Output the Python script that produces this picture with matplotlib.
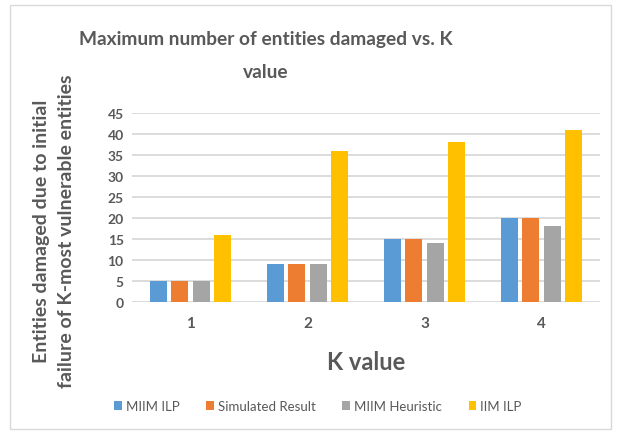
import matplotlib
matplotlib.use("Agg")
import matplotlib.pyplot as plt
import numpy as np
from matplotlib.patches import Rectangle

categories = ["1", "2", "3", "4"]
series_names = ["MIIM ILP", "Simulated Result", "MIIM Heuristic", "IIM ILP"]
miim_ilp = [5, 9, 15, 20]
simulated = [5, 9, 15, 20]
miim_heur = [5, 9, 14, 18]
iim_ilp = [16, 36, 38, 41]
yticks = [0, 5, 10, 15, 20, 25, 30, 35, 40, 45]
colors = ["#5b9bd5", "#ed7d31", "#a5a5a5", "#ffc000"]

plt.rcParams['font.family'] = ['Lato', 'DejaVu Sans']
txt = "#595959"

fig = plt.figure(figsize=(6.21, 4.35), dpi=100)
fig.patches.append(Rectangle((0.016, 0.012), 0.968, 0.975, transform=fig.transFigure,
                             fill=False, edgecolor="#d9d9d9", linewidth=1))
ax = fig.add_axes([132/621, 1-303/435, 468/621, 189/435])

x = np.arange(len(categories))
w = 0.143
step = 0.183
data = [miim_ilp, simulated, miim_heur, iim_ilp]
for i, (vals, c, n) in enumerate(zip(data, colors, series_names)):
    ax.bar(x + (i - 1.5) * step, vals, width=w, color=c, label=n, zorder=3)

ax.set_xlim(-0.5, 3.5)
ax.set_ylim(0, 45)
ax.set_yticks(yticks)
ax.set_xticks(x)
ax.set_xticklabels(categories)
ax.grid(axis='y', color="#d9d9d9", linewidth=1.3, zorder=0)
for s in ax.spines.values():
    s.set_visible(False)
ax.tick_params(axis='both', length=0, colors=txt, labelsize=10)
ax.tick_params(axis='x', pad=10, labelsize=11)
ax.tick_params(axis='y', pad=6)
for lab in ax.get_yticklabels() + ax.get_xticklabels():
    lab.set_fontweight('bold')

fig.text(266/621, 1-40/435, "Maximum number of entities damaged vs. K", ha='center', va='center',
         fontsize=13.8, fontweight='bold', color=txt)
fig.text(266/621, 1-72/435, "value", ha='center', va='center',
         fontsize=13.8, fontweight='bold', color=txt)
fig.text(42/621, 1-231/435, "Entities damaged due to initial", rotation=90, ha='center', va='center',
         fontsize=14, fontweight='bold', color=txt)
fig.text(67/621, 1-231/435, "failure of K-most vulnerable entities", rotation=90, ha='center', va='center',
         fontsize=14, fontweight='bold', color=txt)
fig.text(366/621, 1-363/435, "K value", ha='center', va='center',
         fontsize=17, fontweight='bold', color=txt)

leg = fig.legend(loc='center', bbox_to_anchor=(318/621, 1-407/435), ncol=4, frameon=False,
                 fontsize=9.5, handlelength=0.6, handleheight=0.6, handletextpad=0.3,
                 columnspacing=2.0, labelcolor=txt)

fig.savefig("out.png", dpi=100, facecolor="white")
